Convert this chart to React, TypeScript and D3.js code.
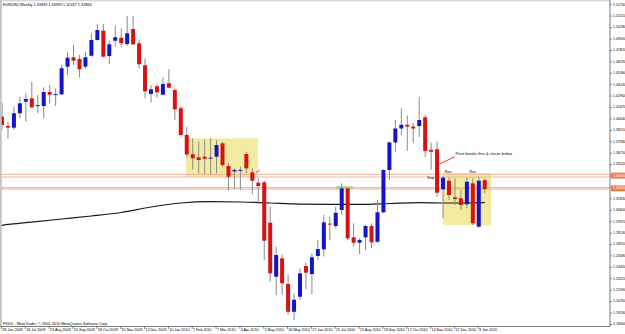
import React from "react";
import * as d3 from "d3";

const dateLabels = ["28 Jun 2009", "26 Jul 2009", "23 Aug 2009", "20 Sep 2009", "18 Oct 2009", "15 Nov 2009", "13 Dec 2009", "10 Jan 2010", "7 Feb 2010", "7 Mar 2010", "4 Apr 2010", "2 May 2010", "30 May 2010", "27 Jun 2010", "25 Jul 2010", "22 Aug 2010", "19 Sep 2010", "17 Oct 2010", "14 Nov 2010", "12 Dec 2010", "9 Jan 2011"];
const dateLabelIndex = [0, 4, 8, 12, 16, 20, 24, 28, 32, 36, 40, 44, 48, 52, 56, 60, 64, 68, 72, 76, 80];

const priceTicks = [1.52740, 1.51510, 1.50280, 1.49050, 1.47820, 1.46590, 1.45360, 1.44130, 1.42900, 1.41670, 1.40440, 1.39210, 1.37980, 1.36750, 1.35520, 1.34290, 1.33060, 1.31830, 1.30600, 1.29370, 1.28140, 1.26910, 1.25680, 1.24450, 1.23220, 1.21990, 1.20760, 1.19530, 1.18300];

const opens = [1.4067, 1.3967, 1.3949, 1.4104, 1.4229, 1.4265, 1.4190, 1.4182, 1.4333, 1.4306, 1.4308, 1.4606, 1.4707, 1.4690, 1.4606, 1.4724, 1.4894, 1.4994, 1.4721, 1.4886, 1.4918, 1.4850, 1.5012, 1.4858, 1.4621, 1.4312, 1.4395, 1.4304, 1.4427, 1.4355, 1.4158, 1.3870, 1.3662, 1.3629, 1.3636, 1.3624, 1.3636, 1.3780, 1.3536, 1.3477, 1.3492, 1.3665, 1.3468, 1.3356, 1.3360, 1.2925, 1.2343, 1.2541, 1.2264, 1.1965, 1.2127, 1.2458, 1.2372, 1.2566, 1.2638, 1.2915, 1.2889, 1.3062, 1.3295, 1.2767, 1.2709, 1.2767, 1.2889, 1.2720, 1.3037, 1.3493, 1.3790, 1.3940, 1.3980, 1.3960, 1.3967, 1.4061, 1.3710, 1.3716, 1.3285, 1.3377, 1.3198, 1.3188, 1.3123, 1.3349, 1.2882, 1.33839];
const highs = [1.4215, 1.4013, 1.4175, 1.4283, 1.4319, 1.4444, 1.4301, 1.4384, 1.4409, 1.4373, 1.4624, 1.4768, 1.4840, 1.4732, 1.4768, 1.4966, 1.5066, 1.5066, 1.4886, 1.5048, 1.5020, 1.5152, 1.5152, 1.4901, 1.4696, 1.4409, 1.4419, 1.4492, 1.4581, 1.4373, 1.4182, 1.3960, 1.3834, 1.3798, 1.3824, 1.3834, 1.3816, 1.3798, 1.3565, 1.3510, 1.3528, 1.3690, 1.3511, 1.3403, 1.3380, 1.3094, 1.2666, 1.2580, 1.2361, 1.2160, 1.2433, 1.2494, 1.2595, 1.2738, 1.3008, 1.2989, 1.3097, 1.3349, 1.3300, 1.2918, 1.2757, 1.2900, 1.2918, 1.3169, 1.3500, 1.3800, 1.4030, 1.4160, 1.4080, 1.4000, 1.4282, 1.4085, 1.3787, 1.3798, 1.3430, 1.3414, 1.3403, 1.3277, 1.3414, 1.3403, 1.3420, 1.3400];
const lows = [1.3924, 1.3834, 1.3924, 1.4050, 1.4013, 1.4158, 1.4104, 1.4050, 1.4211, 1.4182, 1.4301, 1.4516, 1.4624, 1.4492, 1.4584, 1.4714, 1.4886, 1.4707, 1.4632, 1.4821, 1.4821, 1.4829, 1.4840, 1.4589, 1.4265, 1.4218, 1.4272, 1.4298, 1.4373, 1.4032, 1.3852, 1.3630, 1.3500, 1.3457, 1.3450, 1.3439, 1.3457, 1.3528, 1.3270, 1.3290, 1.3277, 1.3457, 1.3230, 1.3125, 1.2523, 1.2290, 1.2145, 1.2150, 1.1935, 1.1876, 1.2092, 1.2207, 1.2150, 1.2523, 1.2560, 1.2738, 1.2864, 1.3008, 1.2738, 1.2666, 1.2587, 1.2630, 1.2649, 1.2709, 1.3026, 1.3385, 1.3690, 1.3870, 1.3700, 1.3780, 1.3850, 1.3633, 1.3493, 1.3205, 1.2969, 1.3169, 1.3115, 1.3062, 1.3080, 1.2900, 1.2870, 1.32437];
const closes = [1.3978, 1.3949, 1.4104, 1.4211, 1.4258, 1.4168, 1.4192, 1.4333, 1.4304, 1.4310, 1.4589, 1.4703, 1.4671, 1.4578, 1.4707, 1.4894, 1.5001, 1.4714, 1.4847, 1.4923, 1.4858, 1.4966, 1.4847, 1.4632, 1.4341, 1.4362, 1.4330, 1.4419, 1.4380, 1.4147, 1.3870, 1.3660, 1.3619, 1.3600, 1.3614, 1.3626, 1.3762, 1.3546, 1.3420, 1.3494, 1.3494, 1.3511, 1.3377, 1.3320, 1.2731, 1.2379, 1.2577, 1.2272, 1.1965, 1.2095, 1.2379, 1.2386, 1.2552, 1.2641, 1.2929, 1.2907, 1.3032, 1.3295, 1.2757, 1.2709, 1.2738, 1.2889, 1.2713, 1.3037, 1.3493, 1.3790, 1.3940, 1.3980, 1.3960, 1.3940, 1.4031, 1.3698, 1.3690, 1.3248, 1.3410, 1.3223, 1.3180, 1.3115, 1.3366, 1.2918, 1.3377, 1.32866];

const maIndex = [-1, 0, 5, 10, 15, 20, 25, 30, 35, 40, 45, 50, 55, 60, 65, 70, 75, 81];
const maValues = [1.2888, 1.2897, 1.2932, 1.2965, 1.2997, 1.3035, 1.3094, 1.3137, 1.3151, 1.3148, 1.3137, 1.3126, 1.3123, 1.3123, 1.3132, 1.3142, 1.3137, 1.3142];

const levelLines = [1.3446, 1.3417, 1.3302, 1.3288];
const levelLabels = [1.3432, 1.3295];
const zoneStart = [30.87, 74.0];
const zoneEnd = [42.95, 82.05];
const zoneTop = [1.3834, 1.3460];
const zoneBottom = [1.3420, 1.2900];

const titleText = "EURUSD,Weekly  1.33839 1.33999 1.32437 1.32866";
const footerText = "FXDD - MetaTrader, \u00A9 2001-2010 MetaQuotes Software Corp.";

const W = 625;
const H = 334;
const AXIS_X = 610;
const AXIS_Y = 326.5;
const FONT = "'Liberation Sans', Arial, sans-serif";

export default function App() {
  const x = d3.scaleLinear().domain([0, 81]).range([2, 2 + 5.96 * 81]);
  const y = d3.scaleLinear().domain([1.183, 1.5274]).range([324.3, 4.7]);

  const maLine = d3
    .line<number>()
    .x((_, i) => x(maIndex[i]))
    .y((d) => y(d))
    .curve(d3.curveMonotoneX);

  const bodyW = 4;
  const blue = "#1414cc";
  const red = "#d81212";

  const hidden = (p: number) => levelLabels.some((v) => Math.abs(y(v) - y(p)) < 5);

  return (
    <svg width={W} height={H} style={{ position: "absolute", left: 0, top: 0, display: "block", background: "#fff" }}>
      <defs>
        <clipPath id="plot">
          <rect x={0} y={0} width={AXIS_X} height={AXIS_Y} />
        </clipPath>
      </defs>
      <rect x={0} y={0} width={W} height={H} fill="#ffffff" />

      <g clipPath="url(#plot)">
        {zoneStart.map((s, k) => (
          <rect
            key={"z" + k}
            x={x(s)}
            y={y(zoneTop[k])}
            width={x(zoneEnd[k]) - x(s)}
            height={y(zoneBottom[k]) - y(zoneTop[k])}
            fill="#f3eca0"
          />
        ))}
        <rect x={x(56.0)} y={y(1.3320)} width={x(58.9) - x(56.0)} height={y(1.3288) - y(1.3320)} fill="#a9e6a3" />

        {levelLines.map((v, k) => (
          <line key={"l" + k} x1={0} x2={AXIS_X} y1={y(v)} y2={y(v)} stroke="#eeaa8c" strokeWidth={0.9} />
        ))}

        <path d={maLine(maValues) || ""} fill="none" stroke="#1a1a1a" strokeWidth={1.2} />

        {opens.map((o, i) => {
          const c = closes[i];
          const up = c >= o;
          const cx = x(i);
          const top = y(Math.max(o, c));
          const bot = y(Math.min(o, c));
          const hgt = Math.max(bot - top, 1);
          return (
            <g key={"c" + i}>
              <line x1={cx} x2={cx} y1={y(highs[i])} y2={y(lows[i])} stroke="#8a8a8a" strokeWidth={1} />
              <rect x={cx - bodyW / 2} y={top} width={bodyW} height={hgt} fill={up ? blue : red} />
            </g>
          );
        })}

        <line x1={x(73.4)} y1={y(1.3557)} x2={x(76.0)} y2={y(1.3636)} stroke="#e02020" strokeWidth={0.9} />
        <line x1={x(42.6)} y1={y(1.3464)} x2={x(43.3)} y2={y(1.3493)} stroke="#e040c8" strokeWidth={1} />
        <text x={x(76.1)} y={y(1.3665)} fontSize={3.9} fontFamily={FONT} fill="#000" dominantBaseline="middle">Price breaks thru &amp; closes below</text>
        <text x={x(71.3)} y={y(1.3403)} fontSize={3.9} fontFamily={FONT} fill="#000" dominantBaseline="middle">Sup</text>
        <text x={x(74.3)} y={y(1.3471)} fontSize={3.9} fontFamily={FONT} fill="#000" dominantBaseline="middle">Res</text>
        <text x={x(78.4)} y={y(1.3471)} fontSize={3.9} fontFamily={FONT} fill="#000" dominantBaseline="middle">Res</text>
      </g>

      {/* frame */}
      <rect x={0} y={0} width={1.8} height={AXIS_Y} fill="#c4c4c4" />
      <line x1={0} x2={AXIS_X} y1={0.8} y2={0.8} stroke="#c8c8c8" strokeWidth={1} />
      <line x1={AXIS_X} x2={AXIS_X} y1={0} y2={AXIS_Y} stroke="#7a7a7a" strokeWidth={1} />
      <line x1={0} x2={AXIS_X} y1={AXIS_Y} y2={AXIS_Y} stroke="#7a7a7a" strokeWidth={1} />

      <text x={3} y={4.6} fontSize={3.8} fontFamily={FONT} fill="#000" dominantBaseline="middle">{titleText}</text>
      <text x={3} y={323.5} fontSize={3.8} fontFamily={FONT} fill="#000" dominantBaseline="middle">{footerText}</text>

      {/* right price axis */}
      {priceTicks.map((p, k) => (
        <g key={"p" + k}>
          <line x1={AXIS_X} x2={AXIS_X + 2} y1={y(p)} y2={y(p)} stroke="#555" strokeWidth={0.7} />
          {!hidden(p) && (
            <text x={AXIS_X + 3} y={y(p)} fontSize={3.6} fontFamily={FONT} fill="#000" dominantBaseline="middle">{p.toFixed(5)}</text>
          )}
        </g>
      ))}
      {levelLabels.map((v, k) => (
        <g key={"pl" + k}>
          <rect x={AXIS_X + 1} y={y(v) - 3} width={W - AXIS_X - 1} height={6} fill="#f07a52" />
          <text x={AXIS_X + 3} y={y(v)} fontSize={3.4} fontFamily={FONT} fill="#fff" dominantBaseline="middle">{v.toFixed(5)}</text>
        </g>
      ))}

      {/* bottom date axis */}
      {dateLabels.map((d, k) => {
        const px = x(dateLabelIndex[k]) - 0.5;
        return (
          <g key={"d" + k}>
            <line x1={px} x2={px} y1={AXIS_Y} y2={AXIS_Y + 2.5} stroke="#555" strokeWidth={0.7} />
            <text x={px + 0.8} y={330.2} fontSize={3.7} fontFamily={FONT} fill="#000" dominantBaseline="middle">{d}</text>
          </g>
        );
      })}
    </svg>
  );
}
